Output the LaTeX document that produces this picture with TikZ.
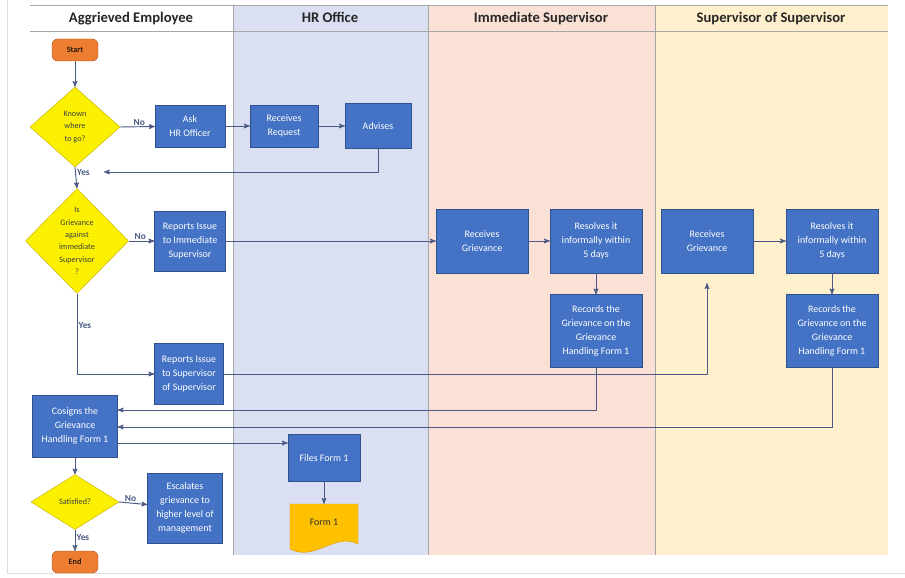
\documentclass[tikz,border=0pt]{standalone}
\usepackage{fontspec}
\setmainfont{Carlito}
\usetikzlibrary{arrows}
\usetikzlibrary{calc}
\usetikzlibrary{shapes.geometric}
\usepackage{xcolor}

\definecolor{lanehr}{HTML}{DAE0F2}
\definecolor{laneis}{HTML}{FBE0D5}
\definecolor{laness}{HTML}{FEF0CC}
\definecolor{procblue}{HTML}{4472C4}
\definecolor{procedge}{HTML}{2F528F}
\definecolor{termfill}{HTML}{ED7D31}
\definecolor{termedge}{HTML}{B4571A}
\definecolor{decfill}{HTML}{FAF000}
\definecolor{decedge}{HTML}{C8B400}
\definecolor{formfill}{HTML}{FFC000}
\definecolor{formedge}{HTML}{D99E00}
\definecolor{flowline}{HTML}{4A5A85}

\tikzset{
 proc/.style={draw=procedge, fill=procblue, text=white, align=center, inner sep=1pt,
   font=\fontsize{8.5}{12}\selectfont},
 term/.style={draw=termedge, fill=termfill, rounded corners=5pt, text=black!80!brown,
   minimum width=13.8mm, minimum height=6.6mm, font=\fontsize{7}{8}\selectfont\bfseries},
 decision/.style={diamond, draw=decedge, fill=decfill, align=center, inner sep=0pt,
   text=black!75, font=\fontsize{7}{10.5}\selectfont},
 head/.style={font=\fontsize{12.5}{14}\selectfont\bfseries, text=black!85, anchor=base},
 lbl/.style={font=\fontsize{8}{9}\selectfont\bfseries, inner sep=1pt},
 flow/.style={flowline, line width=0.8pt, ->, >=stealth'},
 sep/.style={gray!70, line width=0.6pt}
}

\begin{document}
\begin{tikzpicture}[x=0.3mm,y=-0.3mm]
\useasboundingbox (0,0) rectangle (905,578);
\fill[white] (0,0) rectangle (905,578);
\draw[gray!25] (7,0) -- (7,573) -- (905,573);
% lanes
\fill[lanehr] (233,5) rectangle (428,555);
\fill[laneis] (428,5) rectangle (655,555);
\fill[laness] (655,5) rectangle (888,555);
\draw[sep] (30,5) -- (888,5);
\draw[sep] (30,31) -- (888,31);
\foreach \x in {233,428,655}
 \draw[sep] (\x,5) -- (\x,555);
\node[head] (hemp) at (131,23) {Aggrieved Employee};
\node[head] (hhr) at (330,23) {HR Office};
\node[head] (his) at (541,23) {Immediate Supervisor};
\node[head] (hss) at (771,23) {Supervisor of Supervisor};

% employee lane
\node[term] (start) at (75,50) {Start};
\node[decision, minimum width=27mm, minimum height=24mm] (known) at (75,127) {Known\\where\\to go?};
\node[decision, minimum width=30.9mm, minimum height=31.5mm] (grv) at (77,241) {Is\\Grievance\\against\\immediate\\Supervisor\\?};
\node[proc, minimum width=21mm, minimum height=12.6mm] (ask) at (190,126) {Ask\\HR Officer};
\node[proc, minimum width=21.3mm, minimum height=18mm] (rep1) at (190,241) {Reports Issue\\to Immediate\\Supervisor};
\node[proc, minimum width=20.7mm, minimum height=18.3mm] (rep2) at (189,374) {Reports Issue\\to Supervisor\\of Supervisor};
\node[proc, minimum width=25.5mm, minimum height=18.6mm] (cosign) at (75,426) {Cosigns the\\Grievance\\Handling Form 1};
\node[decision, minimum width=26.4mm, minimum height=16.5mm] (sat) at (75,502) {Satisfied?};
\node[proc, minimum width=22.5mm, minimum height=21mm] (esc) at (185,508) {Escalates\\grievance to\\higher level of\\management};
\node[term] (end) at (75,562) {End};

% hr lane
\node[proc, minimum width=20.4mm, minimum height=12.6mm] (recv) at (284,126) {Receives\\Request};
\node[proc, minimum width=19.8mm, minimum height=13.5mm] (adv) at (378,126) {Advises};
\node[proc, minimum width=21.6mm, minimum height=14.1mm] (files) at (324,458) {Files Form 1};
\draw[formedge, fill=formfill] (290,504) -- (358,504) -- (358,544)
 .. controls (335,532) and (315,562) .. (290,549) -- cycle;
\node[minimum width=20.4mm, minimum height=10.8mm, font=\fontsize{8.5}{10}\selectfont, text=black!80] (form) at (324,522) {Form 1};

% supervisor lanes
\node[proc, minimum width=27.6mm, minimum height=19.2mm] (recvis) at (482,241) {Receives\\Grievance};
\node[proc, minimum width=27.6mm, minimum height=19.2mm] (resis) at (596,241) {Resolves it\\informally within\\5 days};
\node[proc, minimum width=27.6mm, minimum height=21.9mm] (recis) at (596,331) {Records the\\Grievance on the\\Grievance\\Handling Form 1};
\node[proc, minimum width=27.6mm, minimum height=19.2mm] (recvss) at (707,241) {Receives\\Grievance};
\node[proc, minimum width=27.6mm, minimum height=19.2mm] (resss) at (832,241) {Resolves it\\informally within\\5 days};
\node[proc, minimum width=27.6mm, minimum height=21.9mm] (recss) at (832,331) {Records the\\Grievance on the\\Grievance\\Handling Form 1};

% connectors
\coordinate (back) at (104,172);
\draw[flow] (start) -- (known);
\draw[flow] (known.east) -- node[lbl, above, pos=.55] (no1) {No} (ask);
\draw[flow] (ask) -- (recv);
\draw[flow] (recv) -- (adv);
\draw[flow] (adv.south) |- (back);
\draw[flow] (known.south) -- node[lbl, right, pos=.25] (yes1) {Yes} (grv.north);
\draw[flow] (grv.east) -- node[lbl, above, pos=.45] (no2) {No} (rep1);
\draw[flow] (rep1) -- (recvis);
\draw[flow] (recvis) -- (resis);
\draw[flow] (resis) -- (recis);
\draw[flow] (grv.south) |- node[lbl, right, pos=.2] (yes2) {Yes} (rep2);
\draw[flow, shorten >=3mm] (rep2.east) -| (recvss.south);
\draw[flow] (recvss) -- (resss);
\draw[flow] (resss) -- (recss);
\draw[flow] (recis.south) |- ($(cosign.east)+(0,-16)$);
\draw[flow] (recss.south) |- ($(cosign.east)+(0,1)$);
\draw[flow] ($(cosign.east)+(0,17)$) -- ($(files.west)+(0,-15)$);
\draw[flow] (files) -- (form);
\draw[flow] (cosign) -- (sat);
\draw[flow] (sat.east) -- node[lbl, above, pos=.4] (no3) {No} (esc);
\draw[flow] (sat.south) -- node[lbl, right, pos=.35] (yes3) {Yes} (end);
\end{tikzpicture}
\end{document}
